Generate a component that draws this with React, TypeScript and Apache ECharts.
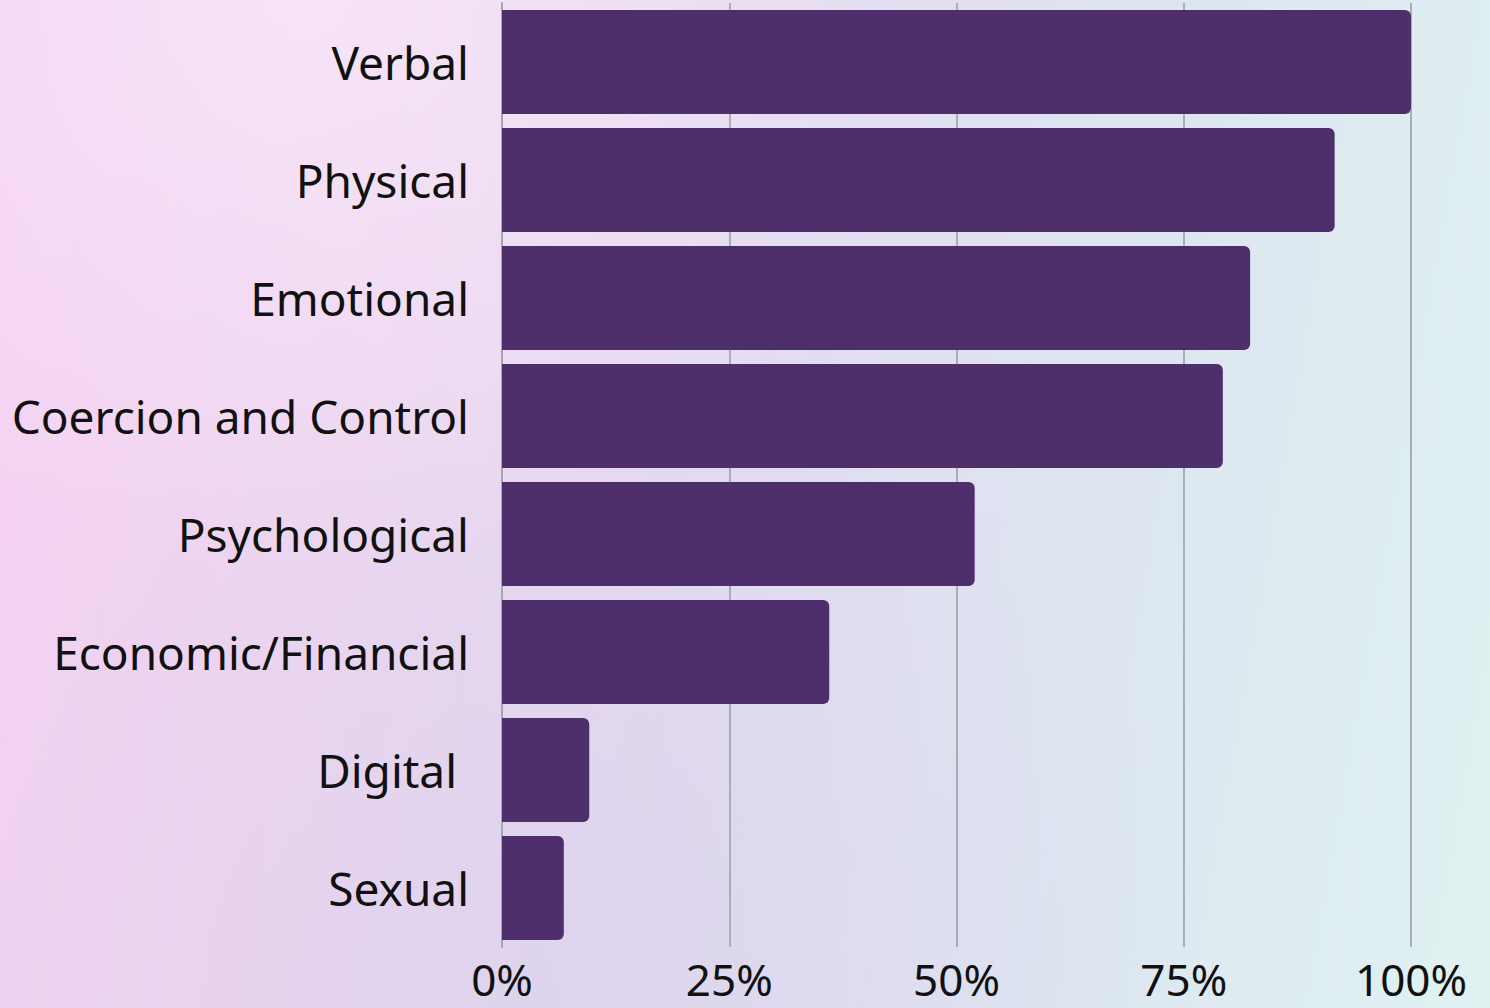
import React, { useEffect, useRef } from "react";
import * as echarts from "echarts";

const categories = [
  "Verbal",
  "Physical",
  "Emotional",
  "Coercion and Control",
  "Psychological",
  "Economic/Financial",
  "Digital ",
  "Sexual",
];
const values = [100, 91.6, 82.3, 79.3, 52, 36, 9.6, 6.8];
const xTicks = [0, 25, 50, 75, 100];

export default function App() {
  const ref = useRef<HTMLDivElement>(null);
  useEffect(() => {
    if (!ref.current) return;
    const chart = echarts.init(ref.current, null, { renderer: "svg" });
    chart.setOption({
      animation: false,
      backgroundColor: "transparent",
      grid: {
        left: 502,
        right: 79,
        top: 3,
        bottom: 61,
        containLabel: false,
        outerBoundsMode: "none",
      },
      xAxis: {
        type: "value",
        min: xTicks[0],
        max: xTicks[xTicks.length - 1],
        interval: 25,
        axisLine: { show: false },
        axisTick: { show: false },
        splitLine: { show: true, lineStyle: { color: "#A9ADB5", width: 2 } },
        axisLabel: {
          formatter: "{value}%",
          fontFamily: "Noto Sans",
          fontSize: 44,
          lineHeight: 40,
          color: "#111111",
          margin: 12,
        },
      },
      yAxis: {
        type: "category",
        data: categories,
        inverse: true,
        axisLine: { show: true, lineStyle: { color: "#A4A7AE", width: 2 } },
        axisTick: { show: false },
        axisLabel: {
          fontFamily: "Noto Sans",
          fontSize: 46,
          color: "#111111",
          margin: 33,
        },
      },
      series: [
        {
          type: "bar",
          data: values,
          barWidth: 104,
          itemStyle: { color: "#4E2F6B", borderRadius: [0, 6, 6, 0] },
        },
      ],
    });
    return () => chart.dispose();
  }, []);
  return (
    <div
      style={{
        position: "fixed",
        left: 0,
        top: 0,
        width: 1490,
        height: 1008,
        background:
          "linear-gradient(100deg, #F6D0F3 0%, #EED6F0 25%, #E2DCF0 50%, #DDE7F0 75%, #E0F2F2 100%)",
      }}
    >
      <div
        style={{
          position: "absolute",
          inset: 0,
          background:
            "radial-gradient(ellipse at 20% 0%, rgba(250,235,250,0.7) 0%, rgba(250,235,250,0) 40%), radial-gradient(ellipse at 35% 100%, rgba(215,205,235,0.5) 0%, rgba(215,205,235,0) 50%)",
        }}
      />
      <div ref={ref} style={{ position: "absolute", left: 0, top: 0, width: 1490, height: 1008 }} />
    </div>
  );
}
